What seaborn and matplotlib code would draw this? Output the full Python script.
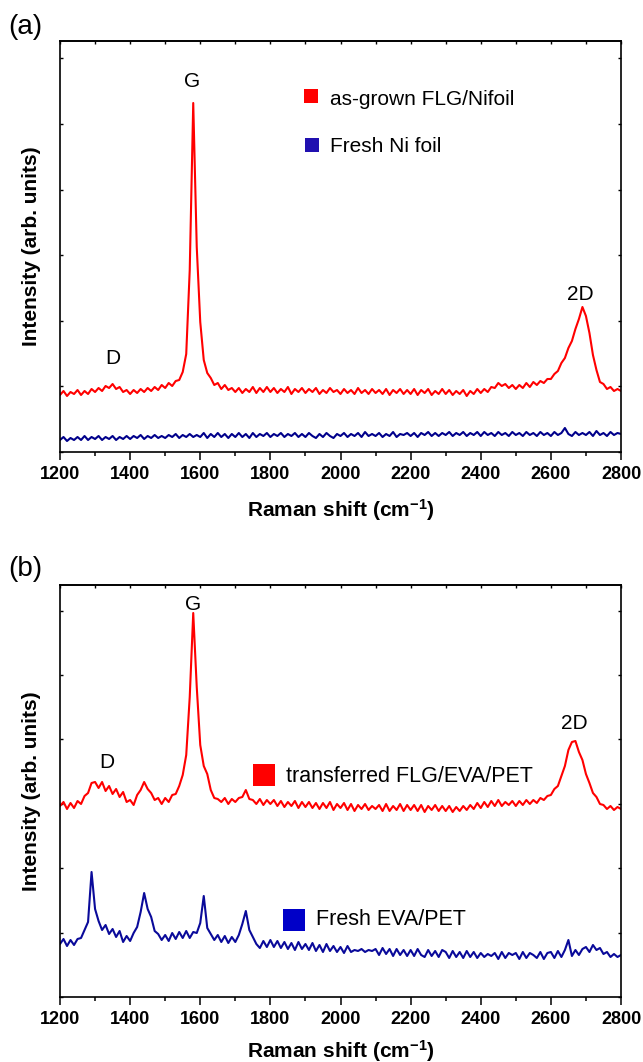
import numpy as np
import pandas as pd
import matplotlib
matplotlib.use('Agg')
import matplotlib.pyplot as plt
import seaborn as sns
from matplotlib.patches import Rectangle
from matplotlib.ticker import MultipleLocator

# ---------------- data ----------------
raman_shift = list(range(1200, 2801, 10))  # cm^-1

# panel (a) – intensities in arbitrary units
flg_nifoil = [
    57, 61, 56, 60, 58, 62, 57, 61, 58, 63,
    60, 64, 61, 66, 64, 68, 63, 65, 60, 62,
    58, 62, 59, 63, 60, 64, 61, 65, 62, 67,
    64, 69, 66, 71, 72, 80, 98, 182, 349, 205,
    130, 92, 79, 74, 67, 69, 63, 67, 62, 64,
    60, 64, 59, 63, 60, 65, 59, 64, 60, 65,
    60, 64, 59, 63, 60, 65, 58, 63, 60, 64,
    59, 63, 60, 64, 58, 62, 59, 64, 60, 62,
    58, 63, 59, 62, 58, 64, 59, 62, 58, 63,
    59, 62, 58, 63, 57, 62, 59, 63, 58, 62,
    58, 63, 57, 62, 59, 63, 57, 61, 58, 63,
    58, 62, 57, 61, 58, 62, 56, 61, 58, 63,
    59, 63, 60, 65, 64, 69, 66, 68, 64, 67,
    63, 67, 64, 69, 65, 70, 67, 71, 69, 73,
    73, 78, 81, 89, 94, 104, 111, 123, 133, 145,
    136, 119, 97, 82, 70, 68, 63, 65, 61, 63,
    61]
fresh_ni_foil = [
    12, 15, 11, 14, 12, 15, 12, 16, 12, 15,
    13, 16, 12, 15, 13, 16, 12, 15, 13, 16,
    13, 16, 14, 17, 13, 16, 14, 17, 14, 16,
    14, 17, 15, 18, 14, 17, 15, 18, 15, 17,
    15, 19, 14, 18, 15, 19, 15, 18, 14, 18,
    15, 19, 15, 18, 14, 19, 15, 18, 16, 19,
    15, 18, 16, 19, 15, 18, 16, 19, 15, 18,
    15, 19, 16, 14, 18, 15, 19, 16, 14, 18,
    16, 19, 15, 18, 16, 19, 15, 20, 16, 18,
    16, 19, 15, 18, 16, 20, 15, 18, 17, 19,
    16, 19, 15, 19, 17, 20, 16, 19, 16, 19,
    17, 20, 16, 19, 17, 20, 16, 19, 17, 20,
    16, 20, 17, 19, 16, 20, 17, 19, 16, 20,
    17, 19, 16, 20, 17, 19, 16, 20, 17, 19,
    16, 20, 17, 19, 24, 18, 16, 20, 17, 19,
    17, 20, 16, 21, 17, 19, 16, 20, 17, 19,
    18]

# panel (b)
flg_eva_pet = [
    191, 195, 188, 194, 189, 196, 193, 201, 204, 214,
    215, 209, 215, 206, 211, 203, 208, 200, 205, 195,
    197, 192, 202, 207, 215, 208, 204, 197, 199, 193,
    199, 195, 202, 203, 211, 222, 242, 300, 384, 310,
    252, 231, 223, 207, 199, 198, 195, 199, 193, 198,
    195, 199, 200, 207, 198, 197, 193, 198, 192, 197,
    193, 197, 191, 196, 190, 195, 191, 196, 189, 195,
    190, 195, 189, 194, 188, 194, 189, 195, 187, 193,
    189, 194, 187, 193, 186, 192, 188, 193, 187, 191,
    188, 192, 186, 193, 186, 191, 187, 193, 186, 192,
    187, 192, 186, 192, 185, 191, 187, 192, 186, 191,
    186, 191, 185, 190, 186, 191, 187, 192, 188, 194,
    189, 195, 190, 196, 191, 197, 191, 195, 192, 196,
    191, 196, 192, 197, 193, 197, 194, 199, 197, 201,
    202, 208, 211, 221, 231, 247, 255, 256, 245, 237,
    223, 214, 204, 200, 193, 192, 188, 191, 187, 190,
    188]
fresh_eva_pet = [
    53, 58, 51, 57, 52, 58, 59, 67, 75, 125,
    88, 76, 67, 72, 63, 68, 60, 66, 55, 61,
    56, 64, 70, 85, 104, 88, 80, 66, 63, 57,
    62, 56, 64, 58, 65, 59, 66, 59, 65, 64,
    74, 101, 69, 63, 57, 62, 55, 61, 54, 60,
    55, 62, 73, 86, 67, 60, 53, 49, 56, 50,
    57, 50, 56, 49, 55, 48, 54, 47, 55, 48,
    53, 47, 54, 46, 52, 45, 53, 46, 51, 45,
    50, 44, 51, 45, 47, 46, 48, 45, 47, 46,
    48, 42, 49, 43, 48, 41, 48, 42, 47, 41,
    47, 41, 48, 42, 40, 47, 41, 46, 40, 47,
    45, 39, 46, 40, 45, 39, 46, 40, 45, 39,
    44, 40, 43, 41, 44, 38, 45, 39, 44, 42,
    44, 38, 45, 39, 44, 42, 39, 45, 38, 44,
    45, 39, 46, 40, 47, 57, 41, 47, 42, 48,
    50, 45, 52, 47, 49, 43, 45, 40, 43, 40,
    42]

series_a = ['as-grown FLG/Nifoil', 'Fresh Ni foil']
series_b = ['transferred FLG/EVA/PET', 'Fresh EVA/PET']
peak_names = ['D', 'G', '2D']
x_tick_values = [1200, 1400, 1600, 1800, 2000, 2200, 2400, 2600, 2800]

# ---------------- style ----------------
sns.set_style('ticks')
plt.rcParams['font.family'] = ['Liberation Sans', 'DejaVu Sans']
plt.rcParams['mathtext.fontset'] = 'custom'
plt.rcParams['mathtext.rm'] = 'Liberation Sans'
plt.rcParams['mathtext.bf'] = 'Liberation Sans:bold'
plt.rcParams['mathtext.it'] = 'Liberation Sans:italic'
plt.rcParams['text.color'] = 'black'
plt.rcParams['axes.labelcolor'] = 'black'
plt.rcParams['xtick.color'] = 'black'
plt.rcParams['ytick.color'] = 'black'
plt.rcParams['axes.edgecolor'] = 'black'

W, H = 643, 1062
fig = plt.figure(figsize=(W / 100, H / 100), dpi=100)


def rect(left, top, right, bottom):
    return [left / W, 1 - bottom / H, (right - left) / W, (bottom - top) / H]


ax_a = fig.add_axes(rect(60, 41, 621, 452))
ax_b = fig.add_axes(rect(60, 585, 621, 997))

df_a = pd.DataFrame({'shift': raman_shift, series_a[0]: flg_nifoil, series_a[1]: fresh_ni_foil})
df_b = pd.DataFrame({'shift': raman_shift, series_b[0]: flg_eva_pet, series_b[1]: fresh_eva_pet})

LW = 1.5
sns.lineplot(data=df_a, x='shift', y=series_a[0], ax=ax_a, color='#ff0000', lw=LW, estimator=None)
sns.lineplot(data=df_a, x='shift', y=series_a[1], ax=ax_a, color='#00008b', lw=LW, estimator=None)
sns.lineplot(data=df_b, x='shift', y=series_b[0], ax=ax_b, color='#ff0000', lw=LW, estimator=None)
sns.lineplot(data=df_b, x='shift', y=series_b[1], ax=ax_b, color='#0a0a9a', lw=LW, estimator=None)


def style(ax, ymax, ystep):
    ax.set_xlim(1200, 2800)
    ax.set_ylim(0, ymax)
    ax.set_xticks(x_tick_values)
    ax.set_xticklabels([str(v) for v in x_tick_values], fontweight='bold', fontsize=13)
    ax.xaxis.set_minor_locator(MultipleLocator(100))
    ax.tick_params(axis='x', which='major', direction='out', length=5.8, width=1.1, pad=4.5)
    ax.tick_params(axis='x', which='minor', direction='out', length=3.2, width=1.1)
    ax.set_yticks(np.arange(0, ymax, ystep))
    ax.tick_params(axis='y', which='major', direction='in', length=2.5, width=1.0,
                   left=True, right=True, labelleft=False)
    for sp in ax.spines.values():
        sp.set_visible(True)
        sp.set_linewidth(1.2)
        sp.set_color('black')
    sec = ax.secondary_xaxis('top')
    sec.set_xticks(x_tick_values)
    sec.xaxis.set_minor_locator(MultipleLocator(100))
    sec.tick_params(which='both', direction='in', length=2.5, width=1.0, labeltop=False)
    sec.spines['top'].set_linewidth(1.2)
    ax.set_xlabel(r'Raman shift (cm$^{\mathbf{-1}}$)', fontsize=15, fontweight='bold')
    ax.set_ylabel('Intensity (arb. units)', fontsize=15, fontweight='bold')
    ax.xaxis.label.set_va('center')
    ax.yaxis.label.set_va('center')


style(ax_a, 411, 65.6)
style(ax_b, 412, 64.4)
ax_a.xaxis.set_label_coords(0.5, -(510 - 452) / 411)
ax_b.xaxis.set_label_coords(0.5, -(1051 - 997) / 412)
ax_a.yaxis.set_label_coords((32 - 60) / 561, 0.5)
ax_b.yaxis.set_label_coords((32 - 60) / 561, 0.5)


def px_text(px, py, s, **kw):
    fig.text(px / W, 1 - py / H, s, **kw)


def px_square(px, py, size, color):
    fig.add_artist(Rectangle((px / W, 1 - (py + size) / H), size / W, size / H,
                             transform=fig.transFigure, facecolor=color, edgecolor='none'))


# panel labels
px_text(8, 34.5, '(a)', fontsize=20, va='baseline', ha='left')
px_text(8, 576, '(b)', fontsize=20, va='baseline', ha='left')

# peak annotations
px_text(113, 364, peak_names[0], fontsize=15, ha='center', va='baseline')
px_text(192.5, 87, peak_names[1], fontsize=15, ha='center', va='baseline')
px_text(580, 300, peak_names[2], fontsize=15, ha='center', va='baseline')
px_text(106.5, 768, peak_names[0], fontsize=15, ha='center', va='baseline')
px_text(193, 610, peak_names[1], fontsize=15, ha='center', va='baseline')
px_text(574, 729, peak_names[2], fontsize=15, ha='center', va='baseline')

# legends
px_square(304, 89, 13.5, '#ff0000')
px_square(305, 138, 13.5, '#2010b0')
px_text(330, 105, series_a[0], fontsize=15, va='baseline', ha='left')
px_text(330, 152.5, series_a[1], fontsize=15, va='baseline', ha='left')

px_square(253, 764, 22, '#ff0000')
px_square(283, 909, 22, '#0000c8')
px_text(286, 781.5, series_b[0], fontsize=15.5, va='baseline', ha='left')
px_text(316, 925, series_b[1], fontsize=15.5, va='baseline', ha='left')

fig.savefig('out.png', dpi=100)
